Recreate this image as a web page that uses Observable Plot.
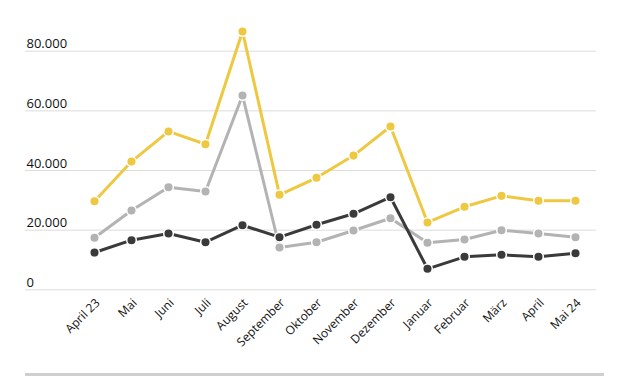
<!DOCTYPE html>
<html>
<head>
<meta charset="utf-8">
<script src="https://cdn.jsdelivr.net/npm/d3@7"></script>
<script src="https://cdn.jsdelivr.net/npm/@observablehq/plot@0.6"></script>
<style>
  html, body { margin: 0; padding: 0; background: #fff; }
  body { width: 630px; height: 381px; overflow: hidden; font-family: "Open Sans", sans-serif; }
  #bottomrule { margin-left: 25px; width: 579px; height: 3px; background: #cfcfcf; }
</style>
</head>
<body>
<div id="chart"></div>
<div id="bottomrule"></div>
<script>
const months = ["April 23", "Mai", "Juni", "Juli", "August", "September", "Oktober", "November", "Dezember", "Januar", "Februar", "März", "April", "Mai 24"];
const yellowValues = [29700, 43000, 53100, 48800, 86600, 31850, 37550, 45000, 54750, 22570, 27830, 31500, 29850, 29850];
const grayValues = [17430, 26600, 34400, 32960, 65150, 14180, 15960, 19880, 24000, 15760, 16870, 19990, 18880, 17640];
const blackValues = [12500, 16630, 18880, 15960, 21660, 17640, 21800, 25480, 31050, 7040, 11060, 11740, 11060, 12270];
const yTicks = [0, 20000, 40000, 60000, 80000];

const seriesNames = ["grau", "schwarz", "gelb"];
const seriesColors = ["#b3b3b3", "#3a3a3a", "#efc841"];
const seriesValues = [grayValues, blackValues, yellowValues];

const de = d3.formatLocale({decimal: ",", thousands: ".", grouping: [3], currency: ["", " €"]});
const fmt = de.format(",");

const marks = [
  Plot.ruleY(yTicks, {stroke: "#dcdcdc", strokeWidth: 1}),
  Plot.text(yTicks, {y: d => d, text: d => fmt(d), frameAnchor: "left", textAnchor: "start", lineAnchor: "bottom", dx: 1, dy: -3, fontSize: 13, fill: "#111"}),
  Plot.text(months, {x: d => d, text: d => d, frameAnchor: "bottom", rotate: -45, textAnchor: "end", lineAnchor: "top", dx: 0, dy: 8, fontSize: 12, fill: "#111"})
];
seriesNames.forEach((name, i) => {
  const rows = months.map((m, j) => ({month: m, value: seriesValues[i][j], series: name}));
  marks.push(Plot.line(rows, {x: "month", y: "value", stroke: seriesColors[i], strokeWidth: 3}));
  marks.push(Plot.dot(rows, {x: "month", y: "value", r: 4.8, fill: seriesColors[i], stroke: "#fff", strokeWidth: 1.5}));
});

const chart = Plot.plot({
  width: 630,
  height: 373,
  marginLeft: 25,
  marginRight: 34,
  marginTop: 20,
  marginBottom: 84,
  style: {fontFamily: "'Open Sans', sans-serif", background: "#fff", overflow: "visible"},
  x: {type: "point", domain: months, range: [92, 577], padding: 0, axis: null},
  y: {domain: [0, 80000], range: [289.3, 50.7], axis: null},
  marks
});
document.getElementById("chart").appendChild(chart);
</script>
</body>
</html>
